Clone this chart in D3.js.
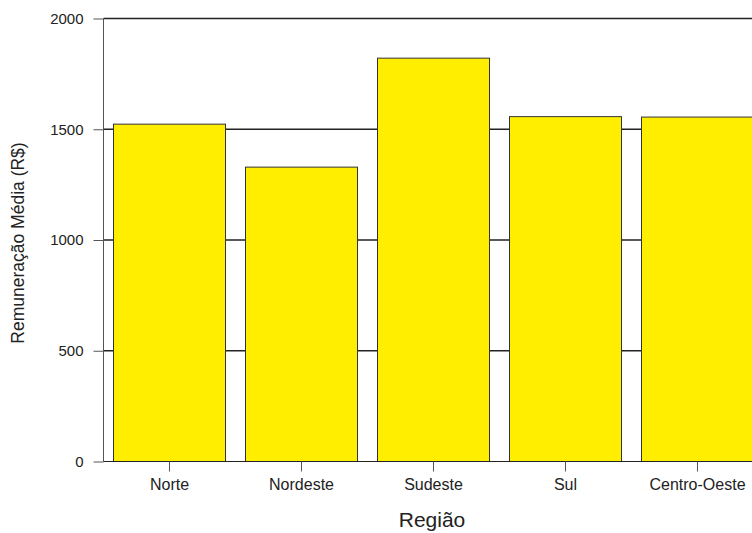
<!DOCTYPE html>
<html><head><meta charset="utf-8">
<script src="https://cdn.jsdelivr.net/npm/d3@7"></script>
<style>body{margin:0;background:#fff}svg{display:block}</style>
</head><body>
<script>
const regions = ["Norte","Nordeste","Sudeste","Sul","Centro-Oeste"];
const values = [1523, 1329, 1821, 1557, 1555];
const yTicks = [0, 500, 1000, 1500, 2000];
const yTitle = "Remuneração Média (R$)";
const xTitle = "Região";

const W = 752, H = 533;
const plotLeft = 103.5, plotBottom = 461.5, plotTop = 18.5;
const svg = d3.select("body").append("svg").attr("width", W).attr("height", H);
const font = "'Liberation Sans', Arial, Helvetica, sans-serif";

const x = d3.scaleBand().domain(regions).range([plotLeft, plotLeft + 660]).paddingInner(20/132).paddingOuter(10/132);
const y = d3.scaleLinear().domain([0, 2000]).range([plotBottom, plotTop]);

// grid lines
svg.append("g").selectAll("line").data(yTicks.filter(d => d > 0)).join("line")
  .attr("x1", plotLeft).attr("x2", W).attr("y1", d => y(d)).attr("y2", d => y(d))
  .attr("stroke", "#222").attr("stroke-width", 1.3);

// bars
svg.append("g").selectAll("rect").data(values).join("rect")
  .attr("x", (d,i) => x(regions[i])).attr("width", x.bandwidth())
  .attr("y", d => y(d)).attr("height", d => plotBottom - y(d))
  .attr("fill", "#FFEE00").attr("stroke", "#333").attr("stroke-width", 1);

// y axis
const ya = svg.append("g").attr("transform", `translate(${plotLeft},0)`)
  .call(d3.axisLeft(y).tickValues(yTicks).tickSize(10).tickPadding(10).tickFormat(d3.format("d")));
ya.select(".domain").attr("d", `M0,${plotBottom}V${plotTop}`).attr("stroke", "#555");
ya.selectAll(".tick line").attr("stroke", "#555");
ya.selectAll("text").attr("font-family", font).attr("font-size", 15).attr("fill", "#222");

// x axis
const xa = svg.append("g").attr("transform", `translate(0,${plotBottom})`)
  .call(d3.axisBottom(x).tickSize(10).tickPadding(7));
xa.select(".domain").attr("d", `M${plotLeft},0H${W}`).attr("stroke", "#222");
xa.selectAll(".tick line").attr("stroke", "#555");
xa.selectAll("text").attr("font-family", font).attr("font-size", 16).attr("fill", "#222");

// titles
svg.append("text").attr("x", 432).attr("y", 527).attr("text-anchor", "middle")
  .attr("font-family", font).attr("font-size", 21).attr("fill", "#222").text(xTitle);
svg.append("text").attr("transform", "translate(24,243) rotate(-90)").attr("text-anchor", "middle")
  .attr("font-family", font).attr("font-size", 17.5).attr("fill", "#222").text(yTitle);
</script>
</body></html>
